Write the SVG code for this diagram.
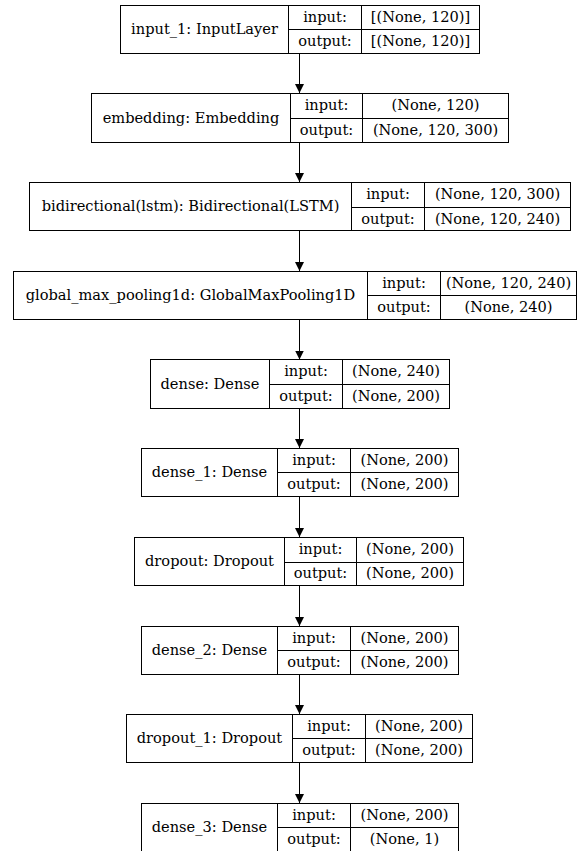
<svg xmlns="http://www.w3.org/2000/svg" width="578" height="851" viewBox="0 0 578 851">
<style>
.b{fill:#fff;stroke:#000;stroke-width:1}
.l{stroke:#000;stroke-width:1;fill:none}
.t text{font-size:14.6px;fill:#000;text-anchor:middle}
</style>
<defs>
<marker id="ah" markerWidth="10" markerHeight="10" refX="9" refY="4.5" orient="auto" markerUnits="userSpaceOnUse">
<path d="M0,0 L9,4.5 L0,9 Z" fill="#000"/>
</marker>
</defs>
<rect width="578" height="851" fill="#fff"/>
<g id="connectors">
<line class="l" x1="299.5" y1="54" x2="299.5" y2="93" marker-end="url(#ah)"/>
<line class="l" x1="299.5" y1="142.5" x2="299.5" y2="182" marker-end="url(#ah)"/>
<line class="l" x1="299.5" y1="231" x2="299.5" y2="271" marker-end="url(#ah)"/>
<line class="l" x1="299.5" y1="320" x2="299.5" y2="359.5" marker-end="url(#ah)"/>
<line class="l" x1="299.5" y1="408.5" x2="299.5" y2="448" marker-end="url(#ah)"/>
<line class="l" x1="299.5" y1="497" x2="299.5" y2="537" marker-end="url(#ah)"/>
<line class="l" x1="299.5" y1="586" x2="299.5" y2="626" marker-end="url(#ah)"/>
<line class="l" x1="299.5" y1="675" x2="299.5" y2="714" marker-end="url(#ah)"/>
<line class="l" x1="299.5" y1="763" x2="299.5" y2="803" marker-end="url(#ah)"/>
</g>
<g class="t" font-family="'DejaVu Serif', serif">
<g id="input_1">
<rect class="b" x="120.5" y="5.5" width="359" height="48"/>
<line class="l" x1="288.5" y1="5.5" x2="288.5" y2="53.5"/>
<line class="l" x1="361.5" y1="5.5" x2="361.5" y2="53.5"/>
<line class="l" x1="288.5" y1="29.5" x2="479.5" y2="29.5"/>
<text x="204.5" y="34">input_1: InputLayer</text>
<text x="325" y="22">input:</text>
<text x="325" y="46">output:</text>
<text x="420.5" y="22">[(None, 120)]</text>
<text x="420.5" y="46">[(None, 120)]</text>
</g>
<g id="embedding">
<rect class="b" x="91.5" y="93.5" width="417" height="49"/>
<line class="l" x1="290.5" y1="93.5" x2="290.5" y2="142.5"/>
<line class="l" x1="362.5" y1="93.5" x2="362.5" y2="142.5"/>
<line class="l" x1="290.5" y1="118.5" x2="508.5" y2="118.5"/>
<text x="191" y="123">embedding: Embedding</text>
<text x="326.5" y="110">input:</text>
<text x="326.5" y="135">output:</text>
<text x="435.5" y="110">(None, 120)</text>
<text x="435.5" y="135">(None, 120, 300)</text>
</g>
<g id="bidirectional">
<rect class="b" x="29.5" y="182.5" width="541" height="48"/>
<line class="l" x1="351.5" y1="182.5" x2="351.5" y2="230.5"/>
<line class="l" x1="424.5" y1="182.5" x2="424.5" y2="230.5"/>
<line class="l" x1="351.5" y1="207.5" x2="570.5" y2="207.5"/>
<text x="190.5" y="211">bidirectional(lstm): Bidirectional(LSTM)</text>
<text x="388" y="199">input:</text>
<text x="388" y="224">output:</text>
<text x="497.5" y="199">(None, 120, 300)</text>
<text x="497.5" y="224">(None, 120, 240)</text>
</g>
<g id="global_max_pooling1d">
<rect class="b" x="13.5" y="271.5" width="563" height="48"/>
<line class="l" x1="367.5" y1="271.5" x2="367.5" y2="319.5"/>
<line class="l" x1="440.5" y1="271.5" x2="440.5" y2="319.5"/>
<line class="l" x1="367.5" y1="295.5" x2="576.5" y2="295.5"/>
<text x="190.5" y="300">global_max_pooling1d: GlobalMaxPooling1D</text>
<text x="404" y="288">input:</text>
<text x="404" y="312">output:</text>
<text x="508.5" y="288">(None, 120, 240)</text>
<text x="508.5" y="312">(None, 240)</text>
</g>
<g id="dense">
<rect class="b" x="150.5" y="359.5" width="299" height="49"/>
<line class="l" x1="269.5" y1="359.5" x2="269.5" y2="408.5"/>
<line class="l" x1="342.5" y1="359.5" x2="342.5" y2="408.5"/>
<line class="l" x1="269.5" y1="384.5" x2="449.5" y2="384.5"/>
<text x="210" y="389">dense: Dense</text>
<text x="306" y="376">input:</text>
<text x="306" y="401">output:</text>
<text x="396" y="376">(None, 240)</text>
<text x="396" y="401">(None, 200)</text>
</g>
<g id="dense_1">
<rect class="b" x="141.5" y="448.5" width="317" height="48"/>
<line class="l" x1="277.5" y1="448.5" x2="277.5" y2="496.5"/>
<line class="l" x1="350.5" y1="448.5" x2="350.5" y2="496.5"/>
<line class="l" x1="277.5" y1="472.5" x2="458.5" y2="472.5"/>
<text x="209.5" y="477">dense_1: Dense</text>
<text x="314" y="465">input:</text>
<text x="314" y="489">output:</text>
<text x="404.5" y="465">(None, 200)</text>
<text x="404.5" y="489">(None, 200)</text>
</g>
<g id="dropout">
<rect class="b" x="134.5" y="537.5" width="329" height="48"/>
<line class="l" x1="284.5" y1="537.5" x2="284.5" y2="585.5"/>
<line class="l" x1="356.5" y1="537.5" x2="356.5" y2="585.5"/>
<line class="l" x1="284.5" y1="562.5" x2="463.5" y2="562.5"/>
<text x="209.5" y="566">dropout: Dropout</text>
<text x="320.5" y="554">input:</text>
<text x="320.5" y="578">output:</text>
<text x="410" y="554">(None, 200)</text>
<text x="410" y="578">(None, 200)</text>
</g>
<g id="dense_2">
<rect class="b" x="141.5" y="626.5" width="317" height="48"/>
<line class="l" x1="277.5" y1="626.5" x2="277.5" y2="674.5"/>
<line class="l" x1="350.5" y1="626.5" x2="350.5" y2="674.5"/>
<line class="l" x1="277.5" y1="650.5" x2="458.5" y2="650.5"/>
<text x="209.5" y="655">dense_2: Dense</text>
<text x="314" y="643">input:</text>
<text x="314" y="667">output:</text>
<text x="404.5" y="643">(None, 200)</text>
<text x="404.5" y="667">(None, 200)</text>
</g>
<g id="dropout_1">
<rect class="b" x="126.5" y="714.5" width="346" height="48"/>
<line class="l" x1="292.5" y1="714.5" x2="292.5" y2="762.5"/>
<line class="l" x1="365.5" y1="714.5" x2="365.5" y2="762.5"/>
<line class="l" x1="292.5" y1="738.5" x2="472.5" y2="738.5"/>
<text x="209.5" y="743">dropout_1: Dropout</text>
<text x="329" y="731">input:</text>
<text x="329" y="755">output:</text>
<text x="419" y="731">(None, 200)</text>
<text x="419" y="755">(None, 200)</text>
</g>
<g id="dense_3">
<rect class="b" x="141.5" y="803.5" width="317" height="49"/>
<line class="l" x1="277.5" y1="803.5" x2="277.5" y2="852.5"/>
<line class="l" x1="350.5" y1="803.5" x2="350.5" y2="852.5"/>
<line class="l" x1="277.5" y1="827.5" x2="458.5" y2="827.5"/>
<text x="209.5" y="832">dense_3: Dense</text>
<text x="314" y="820">input:</text>
<text x="314" y="844">output:</text>
<text x="404.5" y="820">(None, 200)</text>
<text x="404.5" y="844">(None, 1)</text>
</g>
</g>
</svg>
